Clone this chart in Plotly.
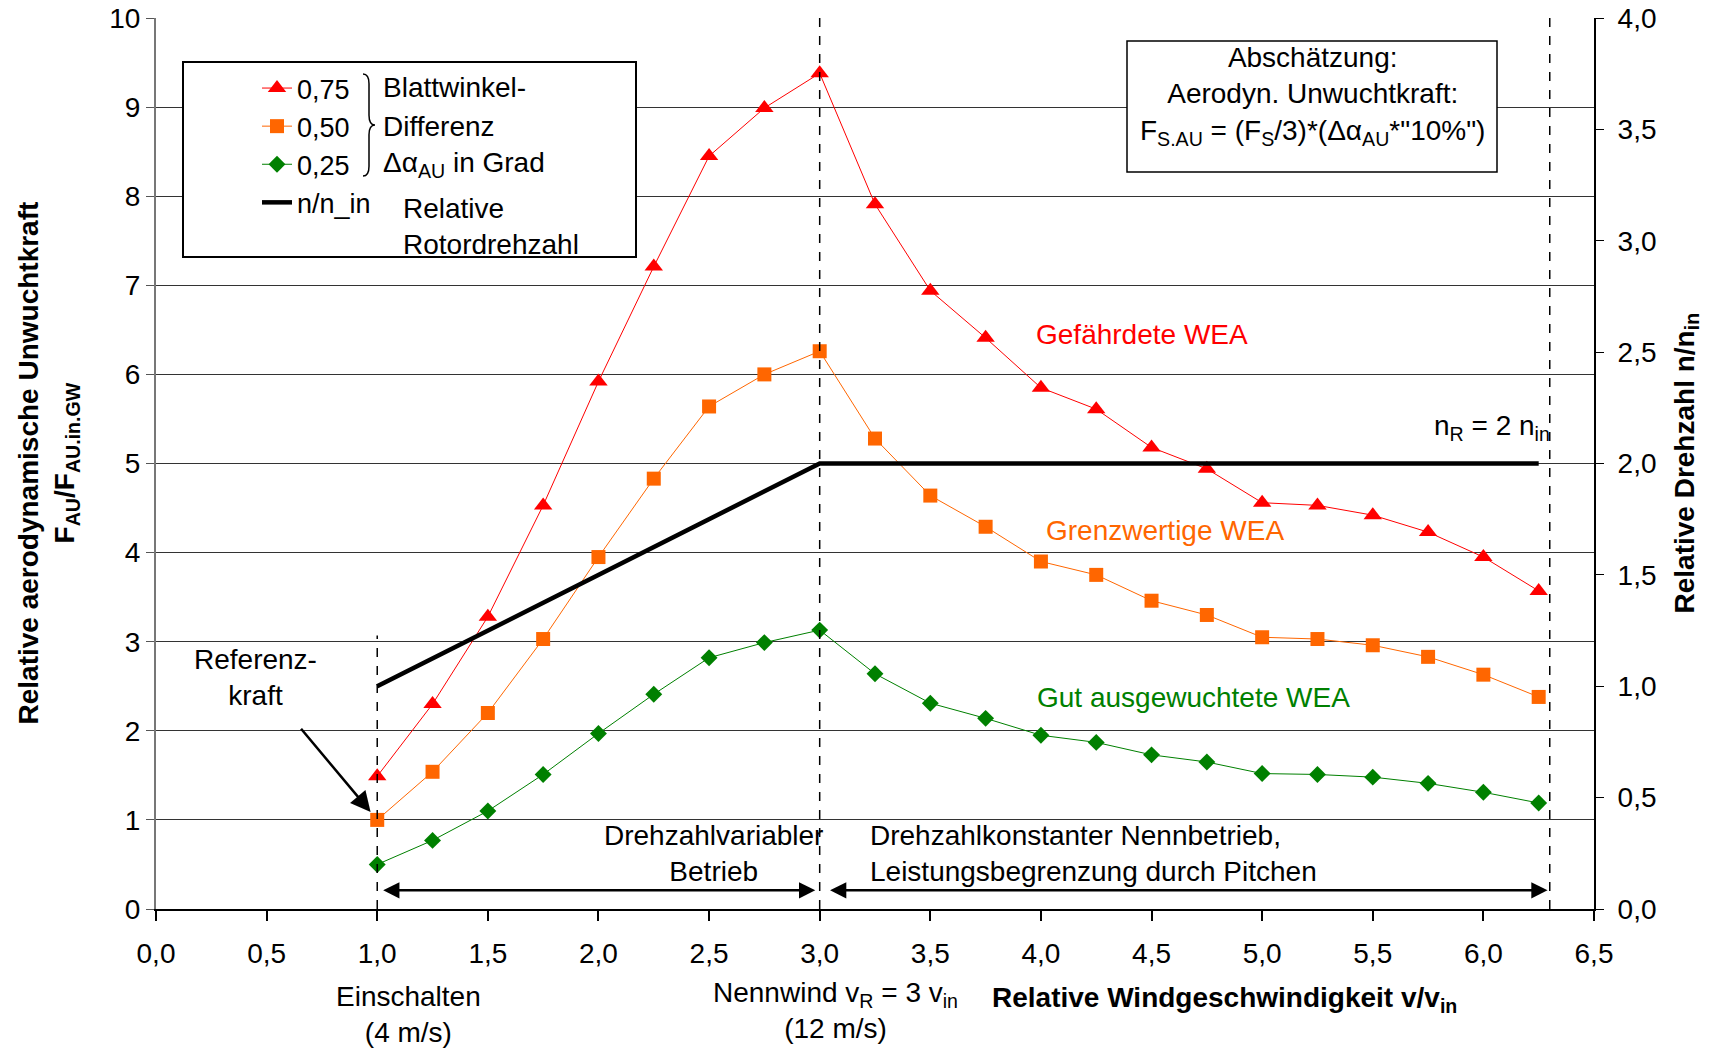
import plotly.graph_objects as go

# Relative wind speed v/v_in at which the unbalance force was evaluated
x_rel = [1.0, 1.25, 1.5, 1.75, 2.0, 2.25, 2.5, 2.75, 3.0, 3.25, 3.5,
         3.75, 4.0, 4.25, 4.5, 4.75, 5.0, 5.25, 5.5, 5.75, 6.0, 6.25]

# Relative aerodynamic unbalance force F_AU / F_AU.in.GW per blade-angle difference
force_075 = [1.49, 2.30, 3.28, 4.53, 5.92, 7.21, 8.45, 8.99, 9.38, 7.91, 6.94,
             6.41, 5.85, 5.61, 5.18, 4.94, 4.56, 4.53, 4.42, 4.23, 3.95, 3.57]
force_050 = [1.00, 1.54, 2.20, 3.03, 3.95, 4.83, 5.64, 6.00, 6.26, 5.28, 4.64,
             4.29, 3.90, 3.75, 3.46, 3.30, 3.05, 3.03, 2.96, 2.83, 2.63, 2.38]
force_025 = [0.50, 0.77, 1.10, 1.51, 1.97, 2.41, 2.82, 2.99, 3.13, 2.64, 2.31,
             2.14, 1.95, 1.87, 1.73, 1.65, 1.52, 1.51, 1.48, 1.41, 1.31, 1.19]

# Relative rotor speed n/n_in (right axis)
speed_x = [1.0, 3.0, 6.25]
speed_rel = [1.0, 2.0, 2.0]

series_names = ["0,75", "0,50", "0,25"]
series_colors = ["#FF0000", "#FF6600", "#008000"]
series_symbols = ["triangle-up", "square", "diamond"]
series_sizes = [16, 14, 13]

FONT = "Liberation Sans, Arial, sans-serif"
FS = 28

# plot area in pixels (used to place paper-referenced decorations)
W, H = 1710, 1053
L, R, T, B = 156, 116, 18, 144
PW, PH = W - L - R, H - T - B


def px(x):
    return (x - L) / PW


def py(y):
    return (H - B - y) / PH


fig = go.Figure()

for name, vals, col, sym, sz in zip(series_names, [force_075, force_050, force_025],
                                    series_colors, series_symbols, series_sizes):
    fig.add_trace(go.Scatter(
        x=x_rel, y=vals, name=name, mode="lines+markers",
        line=dict(color=col, width=1),
        marker=dict(symbol=sym, size=sz, color=col, line=dict(width=0)),
    ))

fig.add_trace(go.Scatter(
    x=speed_x, y=speed_rel, name="n/n_in", mode="lines", yaxis="y2",
    line=dict(color="black", width=4.5),
))

shapes = []
# vertical dashed guide lines: cut-in, rated wind, end of range
shapes.append(dict(type="line", xref="x", yref="y", x0=1.0, x1=1.0, y0=0, y1=3.07,
                   line=dict(color="black", width=1.5, dash="dash")))
shapes.append(dict(type="line", xref="x", yref="y", x0=3.0, x1=3.0, y0=0, y1=10,
                   line=dict(color="black", width=1.5, dash="dash")))
shapes.append(dict(type="line", xref="x", yref="y", x0=6.3, x1=6.3, y0=0, y1=10,
                   line=dict(color="black", width=1.5, dash="dash")))
# legend frame
shapes.append(dict(type="rect", xref="paper", yref="paper",
                   x0=px(183), x1=px(636), y0=py(257), y1=py(62),
                   fillcolor="white", line=dict(color="black", width=2)))
# estimate box
shapes.append(dict(type="rect", xref="paper", yref="paper",
                   x0=px(1127), x1=px(1497), y0=py(172), y1=py(41),
                   fillcolor="white", line=dict(color="black", width=1.5)))
# curly brace grouping the three blade-angle entries
bx0, bxm, bx1 = px(363), px(369), px(375)
by0, bym, by1 = py(74), py(125), py(176)
d = 0.011
brace = (f"M {bx0},{by0} Q {bxm},{by0} {bxm},{by0 - d} "
         f"L {bxm},{bym + d} Q {bxm},{bym} {bx1},{bym} "
         f"Q {bxm},{bym} {bxm},{bym - d} "
         f"L {bxm},{by1 + d} Q {bxm},{by1} {bx0},{by1}")
shapes.append(dict(type="path", xref="paper", yref="paper", path=brace,
                   line=dict(color="black", width=1.5)))

ann = []


def text(t, x, y, xref="paper", yref="paper", color="black", size=FS,
         xanchor="center", yanchor="middle", align="center", angle=0, bold=False):
    if bold:
        t = "<b>" + t + "</b>"
    ann.append(dict(text=t, x=x, y=y, xref=xref, yref=yref, showarrow=False,
                    xanchor=xanchor, yanchor=yanchor, align=align, textangle=angle,
                    font=dict(family=FONT, size=size, color=color)))


# legend descriptions
text("Blattwinkel-", px(381), py(88), xanchor="left")
text("Differenz", px(381), py(126.5), xanchor="left")
text("Δα<sub>AU</sub> in Grad", px(381), py(164), xanchor="left")
text("Relative<br>Rotordrehzahl", px(401), py(226), xanchor="left", align="left")

# estimate box text
text("Abschätzung:<br>Aerodyn. Unwuchtkraft:<br>"
     "F<sub>S.AU</sub> = (F<sub>S</sub>/3)*(Δα<sub>AU</sub>*\"10%\")",
     px(1312), py(96))

# curve labels
text("Gefährdete WEA", 4.455, 6.45, "x", "y", color="#FF0000")
text("Grenzwertige WEA", 4.56, 4.25, "x", "y", color="#FF6600")
text("Gut ausgewuchtete WEA", 4.69, 2.37, "x", "y", color="#008000")
text("n<sub>R</sub> = 2 n<sub>in</sub>", 6.31, 5.4, "x", "y", xanchor="right")

# operating regimes
text("Drehzahlvariabler<br>Betrieb", 2.52, 0.62, "x", "y")
text("Drehzahlkonstanter Nennbetrieb,<br>Leistungsbegrenzung durch Pitchen",
     3.22, 0.62, "x", "y", xanchor="left", align="left")
text("Referenz-<br>kraft", 0.449, 2.6, "x", "y")

# labels below the x axis
text("Einschalten<br>(4 m/s)", px(408), py(1014))
text("Nennwind v<sub>R</sub> = 3 v<sub>in</sub><br>(12 m/s)", px(835), py(1010))
text("Relative Windgeschwindigkeit v/v<sub>in</sub>", px(1224), py(999), bold=True)

# axis titles
text("Relative aerodynamische Unwuchtkraft<br>F<sub>AU</sub>/F<sub>AU.in.GW</sub>",
     px(48), 0.5, angle=-90, bold=True)
text("Relative Drehzahl n/n<sub>in</sub>", px(1686), 0.5, angle=-90, bold=True)

# arrows
ann.append(dict(x=0.97, y=1.09, ax=0.65, ay=2.04, xref="x", yref="y",
                axref="x", ayref="y", text="", showarrow=True,
                arrowhead=2, arrowsize=1.6, arrowwidth=2.5, arrowcolor="black"))
ann.append(dict(x=2.98, y=0.21, ax=1.02, ay=0.21, xref="x", yref="y",
                axref="x", ayref="y", text="", showarrow=True, arrowside="end+start",
                arrowhead=2, arrowsize=1.3, arrowwidth=2.5, arrowcolor="black"))
ann.append(dict(x=6.29, y=0.21, ax=3.04, ay=0.21, xref="x", yref="y",
                axref="x", ayref="y", text="", showarrow=True, arrowside="end+start",
                arrowhead=2, arrowsize=1.3, arrowwidth=2.5, arrowcolor="black"))

fig.update_layout(
    width=W, height=H,
    margin=dict(l=L, r=R, t=T, b=B, autoexpand=False),
    paper_bgcolor="white", plot_bgcolor="white",
    separators=",.",
    font=dict(family=FONT, size=FS, color="black"),
    showlegend=True,
    legend=dict(x=px(257), y=py(64), xanchor="left", yanchor="top",
                bgcolor="rgba(0,0,0,0)", borderwidth=0,
                font=dict(family=FONT, size=27), traceorder="normal"),
    xaxis=dict(range=[0, 6.5], tick0=0, dtick=0.5, tickformat=".1f",
               ticks="outside", ticklen=10, tickcolor="black", tickwidth=1.5,
               showline=True, linecolor="black", linewidth=2, automargin=False,
               showgrid=False, zeroline=False, ticklabelstandoff=8,
               tickfont=dict(family=FONT, size=FS)),
    yaxis=dict(range=[0, 10], tick0=0, dtick=1, ticks="outside", ticklen=8,
               tickcolor="#555", showline=True, linecolor="#777", linewidth=2,
               showgrid=True, gridcolor="#333", gridwidth=1, zeroline=False,
               automargin=False, tickfont=dict(family=FONT, size=FS)),
    yaxis2=dict(range=[0, 4], tick0=0, dtick=0.5, tickformat=".1f",
                overlaying="y", side="right", anchor="x",
                ticks="outside", ticklen=8, tickcolor="black",
                showline=True, linecolor="black", linewidth=2, automargin=False,
                showgrid=False, zeroline=False, ticklabelstandoff=8,
                tickfont=dict(family=FONT, size=FS)),
    shapes=shapes,
    annotations=ann,
)

fig.write_html("out.html")
